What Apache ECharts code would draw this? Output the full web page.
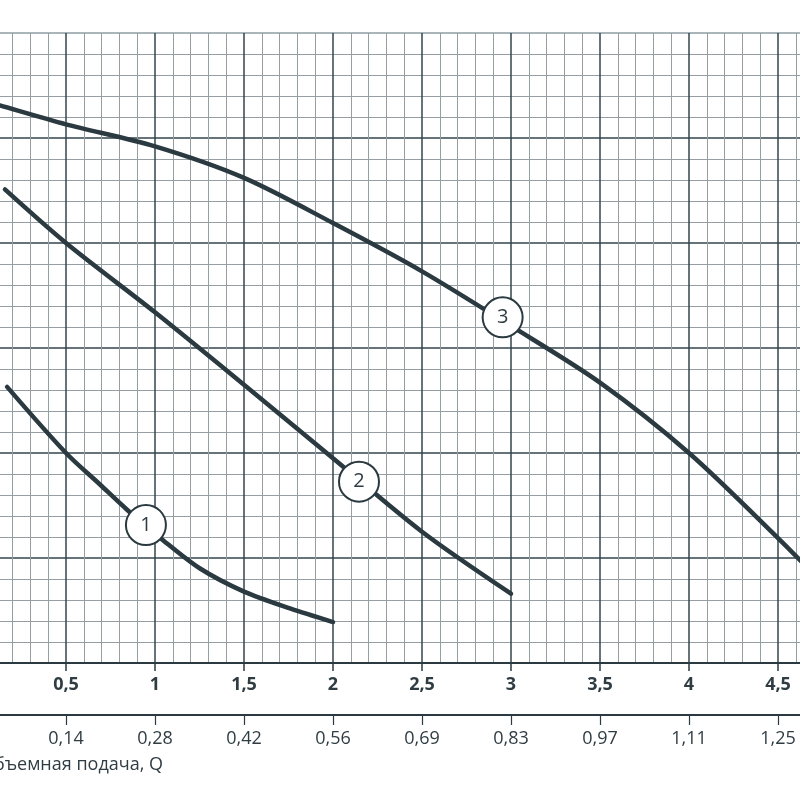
<!DOCTYPE html>
<html>
<head>
<meta charset="utf-8">
<script src="https://cdn.jsdelivr.net/npm/echarts@6/dist/echarts.min.js"></script>
<style>html,body{margin:0;padding:0;background:#fff;}#c{width:800px;height:800px;}</style>
</head>
<body>
<div id="c"></div>
<script>
// Flow, m³/h tick labels (main axis) and l/s tick labels (secondary axis)
const qM3hLabels = ["0,5","1","1,5","2","2,5","3","3,5","4","4,5"];
const qLsLabels  = ["0,14","0,28","0,42","0,56","0,69","0,83","0,97","1,11","1,25"];
const axisName = "Объемная подача, Q";

// Curve 1 [Q m³/h, H]
const curve1 = [[0.169,2.63],[0.5,2.0],[0.691,1.70],[0.843,1.46],[1.045,1.17],[1.253,0.90],[1.5,0.68],[1.758,0.52],[2.0,0.39]];
// Curve 2
const curve2 = [[0.157,4.51],[0.5,4.00],[1.0,3.34],[1.5,2.65],[2.0,1.95],[2.5,1.25],[3.0,0.66]];
// Curve 3
const curve3 = [[0.05,5.35],[0.129,5.31],[0.5,5.13],[1.0,4.92],[1.5,4.62],[2.0,4.19],[2.5,3.73],[3.0,3.21],[3.5,2.67],[4.0,2.0],[4.5,1.19],[4.75,0.76]];
// Curve number markers [Q, H, label]
const markers = [[0.949,1.314,"1"],[2.146,1.727,"2"],[2.953,3.292,"3"]];

const dark = "#2a3a40";
const textC = "#2f3d43";
const font = "'Open Sans', 'Noto Sans', sans-serif";
const majorC = "#33444b";
const minorC = "#959fa3";

const chart = echarts.init(document.getElementById('c'), null, {renderer:'canvas'});

function lineSeries(data){
  return {type:'line', xAxisIndex:0, yAxisIndex:0, data:data, smooth:0.3, showSymbol:false, symbol:'none',
    lineStyle:{color:dark, width:4.5, cap:'round'}, z:5, silent:true, animation:false};
}
function pick(arr){ return function(v){ const i=Math.round(v/0.5)-1; return (i>=0 && i<arr.length)?arr[i]:''; }; }

chart.setOption({
  animation:false,
  grid:[
    {left:-23, right:-67, top:33, bottom:137, containLabel:false, outerBoundsMode:'none'},
    {left:-23, right:-67, top:714, height:1, containLabel:false, outerBoundsMode:'none'}
  ],
  xAxis:[
    {type:'value', gridIndex:0, min:0, max:5, interval:0.5, position:'bottom',
     axisLine:{show:true, onZero:false, lineStyle:{color:dark, width:2}},
     axisTick:{show:true, length:8, lineStyle:{color:dark, width:1.5}},
     axisLabel:{show:true, margin:13, fontSize:18, fontWeight:'bold', color:textC, fontFamily:font, formatter:pick(qM3hLabels)},
     splitLine:{show:true, lineStyle:{color:majorC, width:1.5}},
     minorTick:{show:false, splitNumber:5},
     minorSplitLine:{show:true, lineStyle:{color:minorC, width:1}}
    },
    {type:'value', gridIndex:1, min:0, max:5, interval:0.5, position:'bottom',
     axisLine:{show:true, onZero:false, lineStyle:{color:dark, width:2}},
     axisTick:{show:true, length:10, lineStyle:{color:dark, width:1.2}},
     axisLabel:{show:true, margin:15, fontSize:18, color:textC, fontFamily:font, formatter:pick(qLsLabels)},
     splitLine:{show:false}
    }
  ],
  yAxis:[
    {type:'value', gridIndex:0, min:0, max:6, interval:1,
     axisLine:{show:false}, axisTick:{show:false}, axisLabel:{show:false},
     splitLine:{show:true, lineStyle:{color:[majorC,majorC,majorC,majorC,majorC,majorC,'#8e9ca4'], width:1.5}},
     minorTick:{show:false, splitNumber:5},
     minorSplitLine:{show:true, lineStyle:{color:minorC, width:1}}
    },
    {type:'value', gridIndex:1, min:0, max:1, show:false}
  ],
  graphic:[
    {type:'text', right:800-163, top:756, style:{text:axisName, font:"18px 'Open Sans', 'Noto Sans', sans-serif", fill:textC}}
  ],
  series:[
    lineSeries(curve1), lineSeries(curve2), lineSeries(curve3),
    {type:'scatter', xAxisIndex:0, yAxisIndex:0, symbol:'circle', symbolSize:40, z:10, silent:true,
     data:markers.map(m=>({value:[m[0],m[1]], name:m[2]})),
     itemStyle:{color:'#ffffff', borderColor:dark, borderWidth:2, opacity:1},
     label:{show:true, position:'inside', formatter:function(p){return p.name;}, fontSize:20, color:textC, fontFamily:font}
    }
  ]
});
</script>
</body>
</html>
